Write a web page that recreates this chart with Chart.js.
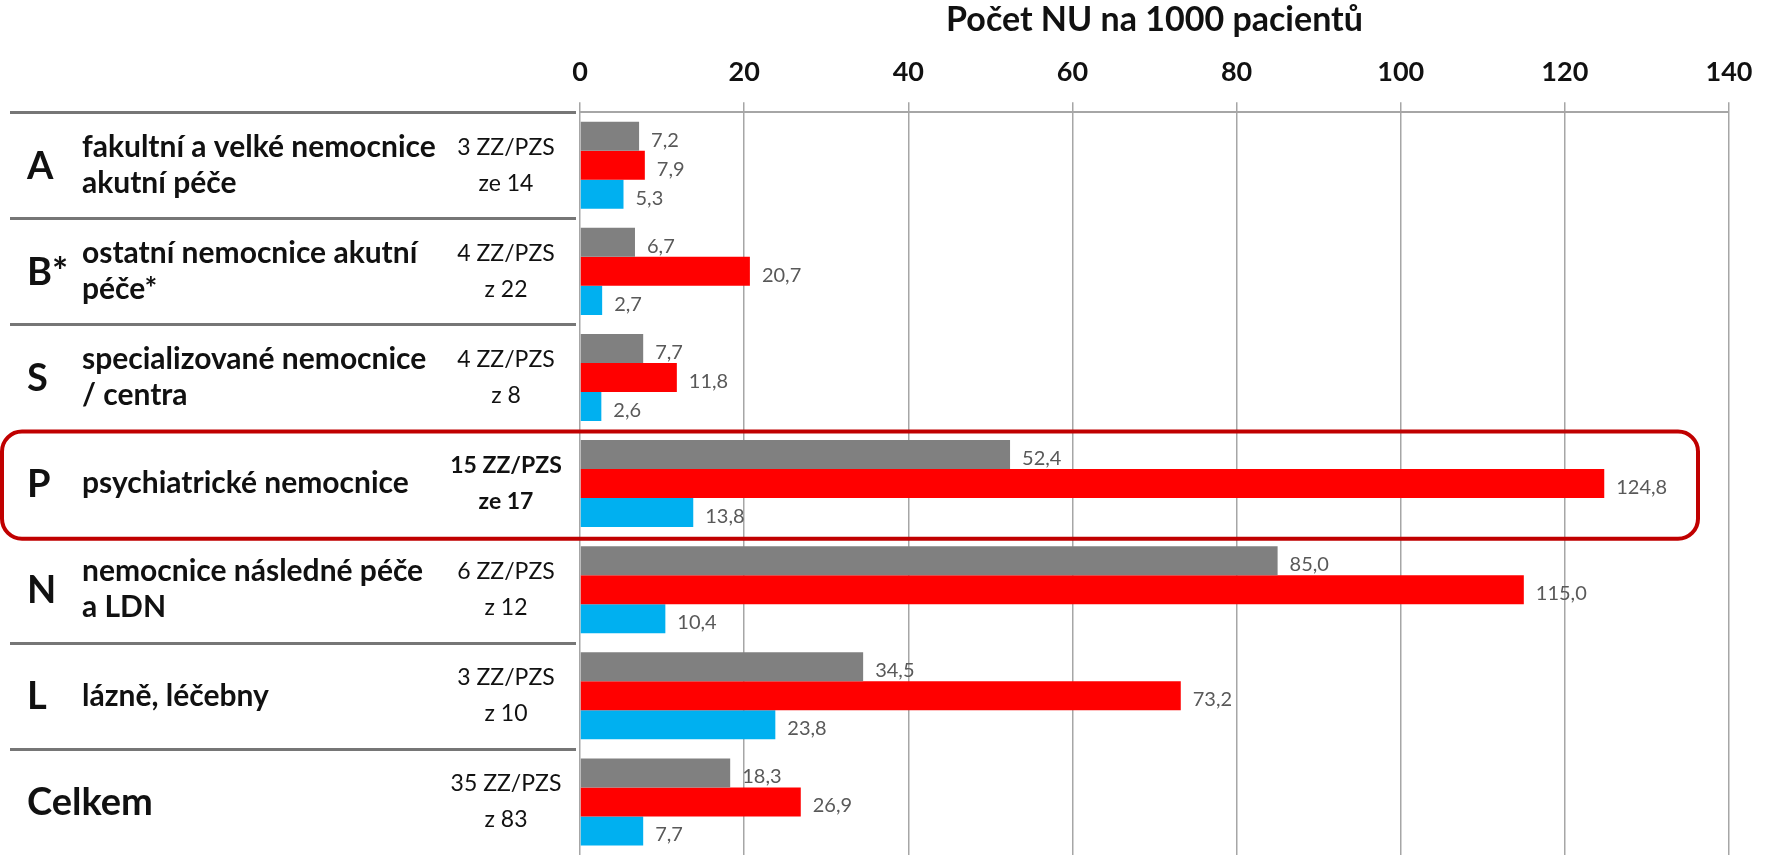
<!DOCTYPE html>
<html>
<head>
<meta charset="utf-8">
<script src="https://cdn.jsdelivr.net/npm/chart.js@4.4.0/dist/chart.umd.min.js"></script>
<style>
  html, body { margin: 0; padding: 0; background: #fff; }
  #wrap { width: 1769px; height: 855px; }
</style>
</head>
<body>
<div id="wrap"><canvas id="nuChart" width="1769" height="855"></canvas></div>
<script>
// skupiny zařízení
var letters = ["A", "B*", "S", "P", "N", "L", "Celkem"];
var descriptions = [
  ["fakultní a velké nemocnice", "akutní péče"],
  ["ostatní nemocnice akutní", "péče*"],
  ["specializované nemocnice", "/ centra"],
  ["psychiatrické nemocnice"],
  ["nemocnice následné péče", "a LDN"],
  ["lázně, léčebny"],
  []
];
var counts = [
  ["3 ZZ/PZS", "ze 14"],
  ["4 ZZ/PZS", "z 22"],
  ["4 ZZ/PZS", "z 8"],
  ["15 ZZ/PZS", "ze 17"],
  ["6 ZZ/PZS", "z 12"],
  ["3 ZZ/PZS", "z 10"],
  ["35 ZZ/PZS", "z 83"]
];
var highlightRow = 3;

// hodnoty – počet NU na 1000 pacientů
var graySeries = [7.2, 6.7, 7.7, 52.4, 85.0, 34.5, 18.3];
var redSeries = [7.9, 20.7, 11.8, 124.8, 115.0, 73.2, 26.9];
var blueSeries = [5.3, 2.7, 2.6, 13.8, 10.4, 23.8, 7.7];

var xTicks = [0, 20, 40, 60, 80, 100, 120, 140];

var FONT = "Lato, 'Noto Sans', sans-serif";

// popisky řádků vlevo od grafu
var rowLabels = {
  id: "rowLabels",
  afterDraw: function (chart) {
    var ctx = chart.ctx;
    var y = chart.scales.y;
    var area = chart.chartArea;
    var step = (y.getPixelForValue(1) - y.getPixelForValue(0));
    ctx.save();

    // oddělovací čáry
    ctx.strokeStyle = "#767676";
    ctx.lineWidth = 3;
    for (var i = 0; i < letters.length; i++) {
      if (i === highlightRow || i === highlightRow + 1) continue;
      var yl = Math.round(y.getPixelForValue(i) - step / 2) + 0.5;
      ctx.beginPath();
      ctx.moveTo(10, yl);
      ctx.lineTo(area.left - 4, yl);
      ctx.stroke();
    }

    ctx.textBaseline = "middle";
    ctx.fillStyle = "#111";
    letters.forEach(function (letter, i) {
      var yc = y.getPixelForValue(i);
      ctx.textAlign = "left";
      ctx.font = "bold 38px " + FONT;
      ctx.fillText(letter, 27, yc + 1);

      ctx.font = "bold 30px " + FONT;
      var d = descriptions[i];
      if (d.length === 1) {
        ctx.fillText(d[0], 82, yc);
      } else if (d.length === 2) {
        ctx.fillText(d[0], 82, yc - 18);
        ctx.fillText(d[1], 82, yc + 18);
      }

      ctx.textAlign = "center";
      ctx.font = (i === highlightRow ? "bold " : "") + "23px " + FONT;
      ctx.fillText(counts[i][0], 506, yc - 18);
      ctx.fillText(counts[i][1], 506, yc + 18);
    });
    ctx.restore();
  }
};

// hodnoty u sloupců a rámeček kolem zvýrazněného řádku
var barValues = {
  id: "barValues",
  afterDatasetsDraw: function (chart) {
    var ctx = chart.ctx;
    ctx.save();
    ctx.font = "20px " + FONT;
    ctx.fillStyle = "#595959";
    ctx.textAlign = "left";
    ctx.textBaseline = "middle";
    chart.data.datasets.forEach(function (ds, di) {
      chart.getDatasetMeta(di).data.forEach(function (bar, i) {
        var txt = ds.data[i].toFixed(1).replace(".", ",");
        ctx.fillText(txt, bar.x + 12, bar.y + 4);
      });
    });

    var y = chart.scales.y;
    var step = y.getPixelForValue(1) - y.getPixelForValue(0);
    var top = y.getPixelForValue(highlightRow) - step / 2 + 1;
    var bottom = top + step + 1;
    var left = 2;
    var right = chart.chartArea.right - 31;
    ctx.strokeStyle = "#C00000";
    ctx.lineWidth = 4;
    ctx.beginPath();
    ctx.roundRect(left, top, right - left, bottom - top, 20);
    ctx.stroke();
    ctx.restore();
  }
};

new Chart(document.getElementById("nuChart"), {
  type: "bar",
  data: {
    labels: letters,
    datasets: [
      { label: "šedá", data: graySeries, backgroundColor: "#808080" },
      { label: "červená", data: redSeries, backgroundColor: "#FF0000" },
      { label: "modrá", data: blueSeries, backgroundColor: "#00B0F0" }
    ]
  },
  options: {
    indexAxis: "y",
    responsive: false,
    animation: false,
    categoryPercentage: 0.82,
    barPercentage: 1.0,
    layout: { padding: { left: 580, right: 40, top: 0, bottom: 0 } },
    plugins: {
      legend: { display: false },
      tooltip: { enabled: false }
    },
    scales: {
      x: {
        position: "top",
        min: 0,
        max: 140,
        afterBuildTicks: function (scale) {
          scale.ticks = xTicks.map(function (v) { return { value: v }; });
        },
        grid: {
          color: "#a6a6a6",
          lineWidth: 1.5,
          tickLength: 10,
          drawTicks: true
        },
        border: { color: "#a6a6a6", width: 2 },
        ticks: {
          padding: 14,
          color: "#111",
          font: { family: FONT, size: 27, weight: "bold" }
        },
        title: {
          display: true,
          text: "Počet NU na 1000 pacientů",
          color: "#111",
          font: { family: FONT, size: 34, weight: "bold" },
          padding: { top: 0, bottom: 1 }
        }
      },
      y: {
        display: false
      }
    }
  },
  plugins: [rowLabels, barValues]
});
</script>
</body>
</html>
